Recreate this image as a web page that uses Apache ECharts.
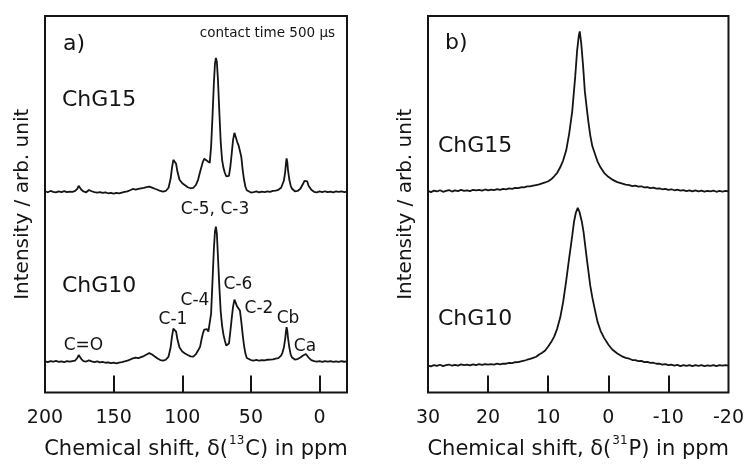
<!DOCTYPE html>
<html>
<head>
<meta charset="utf-8">
<title>NMR spectra</title>
<script src="https://cdn.jsdelivr.net/npm/echarts@6/dist/echarts.min.js"></script>
<style>
  body { margin: 0; background: #fff; }
  #chart { width: 747px; height: 465px; }
</style>
</head>
<body>
<div id="chart"></div>
<script>
// 13C CP-MAS spectra, [ppm, intensity above baseline]
var c13ChG15 = [
  [200, 0.5], [198, -0.5], [196, 0.8], [194, 0], [192, -0.6], [190, 0.4], [188, -0.3], [186, 0.6],
  [184, -0.4], [182, 0.2], [180, -0.2], [178, 0.8], [176.5, 3], [175.5, 6], [175, 6.5], [174.5, 5],
  [173.5, 2], [172, 0.3], [170, -0.5], [168, 1.8], [166, 0.5], [164, -0.4], [162, -0.8], [160, -0.3],
  [158, -1.2], [156, -0.6], [154, -1.5], [152, -1.0], [150, -1.8], [148, -1.2], [146, -1.6], [144, -0.8],
  [142, -0.2], [140, 0.4], [138, 1.5], [136, 2.8], [134, 2.2], [132, 3.0], [130, 3.5], [128, 4.0],
  [126, 4.6], [124, 5.2], [122, 4.2], [120, 3.0], [118, 2.0], [116, 0.8], [114, 0.2], [112, 0.8],
  [110, 4], [108.5, 13], [107.5, 24], [106.5, 32], [105.5, 33.5], [104.5, 28], [103.5, 20], [102, 12],
  [100, 8.5], [98, 6.5], [96, 4.5], [94, 3.5], [92, 3.8], [90, 7], [88.5, 12], [87, 20], [86, 25],
  [85, 30], [84, 33], [83, 33.5], [82, 31], [81, 29], [80, 29], [79, 45], [78, 75], [77, 108],
  [76.2, 128], [75.5, 134], [74.8, 130], [74, 112], [73, 80], [72, 50], [71, 32], [70, 24], [69, 19],
  [68, 15.5], [67, 13.5], [66, 16], [65, 25], [64, 38], [63, 52], [62, 59], [61.5, 60.5], [61, 58],
  [60, 50], [59, 46.5], [58, 45], [57, 35], [56, 22], [55, 12], [54, 5], [53, 1.5], [52, 0],
  [50, -0.8], [48, -0.4], [46, 0.3], [44, -0.6], [42, 0.2], [40, -0.3], [38, 0.5], [36, 0], [34, 0.8],
  [32, 1.2], [30, 2.0], [28, 4], [27, 6], [26, 11], [25, 20], [24.5, 28], [24, 33.5], [23.5, 30],
  [23, 22], [22, 12], [21, 6], [20, 3], [18, 0.5], [16, 0.8], [14, 3], [12, 8], [11, 11], [10, 12.5],
  [9, 10.5], [8, 6], [6, 2], [4, 0], [2, -0.6], [0, 0.3], [-2, -0.4], [-4, 0.5], [-6, -0.3],
  [-8, 0.2], [-10, -0.5], [-12, 0.3], [-14, -0.2], [-16, 0.4], [-18, -0.3], [-20, 0.2]
]
var c13ChG10 = [
  [200, 0.3], [198, -0.6], [196, 0.5], [194, -0.2], [192, 0.6], [190, -0.4], [188, 0.2], [186, -0.5],
  [184, 0.4], [182, -0.2], [180, 0.5], [178, 1.0], [176.5, 3.5], [175.5, 6.5], [175, 7], [174.5, 5.5],
  [173.5, 2.5], [172, 0.5], [170, 0], [168, 1.2], [166, 0.2], [164, -0.5], [162, 0.2], [160, -0.8],
  [158, -0.3], [156, -1.2], [154, -0.8], [152, -1.5], [150, -1.0], [148, -1.8], [146, -1.0], [144, -0.5],
  [142, 0.2], [140, 1.0], [138, 2.0], [136, 3.2], [134, 4.0], [132, 3.5], [130, 4.5], [128, 5.5],
  [126, 7.0], [124, 8.4], [122, 7.0], [120, 5.0], [118, 3.0], [116, 1.5], [114, 1.0], [112, 1.8],
  [110, 5], [108.5, 14], [107.5, 25], [106.5, 33], [105.5, 35], [104.5, 30], [103.5, 22], [102, 14],
  [100, 10], [98, 8], [96, 6.5], [94, 5.2], [92, 5], [90, 7.5], [88.5, 11], [87, 15], [86, 22],
  [85, 28], [84, 32], [83, 33], [82, 32.5], [81, 30], [80, 29], [79, 48], [78, 80], [77, 112],
  [76.2, 130], [75.5, 135], [74.8, 128], [74, 105], [73, 75], [72, 50], [71, 36], [70, 27], [69, 21],
  [68, 16], [67, 14], [66, 18], [65, 30], [64, 43], [63, 55], [62, 62], [61.5, 63.5], [61, 60],
  [60, 55], [59, 53], [58, 51], [57, 40], [56, 27], [55, 16], [54, 8], [53, 3.5], [52, 2],
  [50, 1.5], [48, 1.0], [46, 1.6], [44, 0.8], [42, 1.5], [40, 1.2], [38, 1.8], [36, 2.0], [34, 2.2],
  [32, 3.0], [30, 3.5], [28, 6], [27, 9], [26, 14], [25, 23], [24.5, 30], [24, 34.5], [23.5, 31],
  [23, 24], [22, 14], [21, 7], [20, 4], [18, 2], [16, 2.5], [14, 4], [12, 6], [11, 7], [10, 7.5],
  [9, 6.5], [8, 4], [6, 1.5], [4, 0.5], [2, 0], [0, 0.4], [-2, -0.3], [-4, 0.5], [-6, 0],
  [-8, 0.3], [-10, -0.4], [-12, 0.2], [-14, -0.3], [-16, 0.3], [-18, -0.2], [-20, 0.1]
]

// 31P spectra
var p31ChG15 = [
  [30, 0.3], [29.5, -0.8], [29, 0.6], [28.5, -0.2], [28, 1.0], [27.5, -0.5], [27, 0.4], [26.5, 1.2],
  [26, -0.3], [25.5, 0.8], [25, 0.2], [24.5, 1.3], [24, 0.4], [23.5, 1.0], [23, 0.2], [22.5, 1.5],
  [22, 0.8], [21.5, 1.4], [21, 0.6], [20.5, 1.8], [20, 1.0], [19.5, 1.6], [19, 1.2], [18.5, 2.2],
  [18, 1.5], [17.5, 2.4], [17, 2.0], [16.5, 2.8], [16, 2.4], [15.5, 3.4], [15, 3.2], [14.5, 4.0],
  [14, 3.9], [13.5, 4.8], [13, 5.0], [12.5, 5.6], [12, 6.2], [11.5, 6.8], [11, 7.8], [10.5, 8.8],
  [10, 10], [9.5, 12], [9, 15], [8.5, 18.5], [8, 24], [7.5, 31], [7, 41], [6.5, 58], [6, 80],
  [5.5, 115], [5.2, 140], [4.9, 156], [4.75, 160], [4.5, 148], [4.2, 126], [3.9, 100], [3.6, 84],
  [3.3, 69], [3.0, 56], [2.65, 45], [2.2, 37], [1.8, 30], [1.3, 24], [0.7, 18.5], [0, 14.5],
  [-0.66, 11.7], [-1.5, 9.2], [-2.2, 8.0], [-2.9, 6.7], [-3.5, 6.2], [-4, 5.2], [-4.5, 5.6], [-5, 4.6],
  [-5.5, 5.0], [-6, 3.8], [-6.5, 4.2], [-7, 3.2], [-7.5, 3.6], [-8, 2.6], [-8.5, 3.0], [-9, 2.0],
  [-9.5, 2.4], [-10, 1.5], [-10.5, 2.0], [-11, 1.0], [-11.5, 1.7], [-12, 0.6], [-12.5, 1.2], [-13, 0.2],
  [-13.5, 0.9], [-14, -0.2], [-14.5, 0.8], [-15, 0], [-15.5, 0.7], [-16, -0.4], [-16.5, 0.5], [-17, -0.2],
  [-17.5, 0.6], [-18, -0.5], [-18.5, 0.4], [-19, -0.3], [-19.5, 0.5], [-20, 0]
]
var p31ChG10 = [
  [30, 0], [29.5, -0.9], [29, 0.5], [28.5, -0.4], [28, 0.8], [27.5, -0.6], [27, 0.3], [26.5, 1.0],
  [26, -0.2], [25.5, 0.6], [25, 0], [24.5, 1.1], [24, 0.3], [23.5, 0.9], [23, 0.1], [22.5, 1.2],
  [22, 0.5], [21.5, 1.3], [21, 0.6], [20.5, 1.5], [20, 0.8], [19.5, 1.4], [19, 1.0], [18.5, 1.8],
  [18, 1.2], [17.5, 2.0], [17, 1.8], [16.5, 2.6], [16, 2.5], [15.5, 3.3], [15, 3.4], [14.5, 4.2],
  [14, 4.8], [13.5, 5.8], [13, 6.6], [12.5, 7.6], [12, 8.8], [11.5, 11], [11, 12.8], [10.5, 15],
  [10, 19], [9.5, 23.5], [9, 29], [8.5, 37], [8, 48], [7.5, 64], [7, 85], [6.5, 108], [6.2, 121],
  [6, 130], [5.7, 144], [5.4, 153], [5.08, 158], [4.8, 154], [4.4, 144], [4.1, 133], [3.86, 121],
  [3.6, 108], [3.3, 94], [3.0, 80], [2.65, 68], [2.2, 55], [1.8, 44], [1.3, 35], [0.7, 27.7], [0, 21],
  [-0.66, 16], [-1.5, 12], [-2.2, 9.5], [-2.9, 7.7], [-3.5, 6.8], [-4, 5.5], [-4.5, 5.4], [-5, 4.4],
  [-5.5, 4.6], [-6, 3.4], [-6.5, 3.6], [-7, 2.6], [-7.5, 2.8], [-8, 1.8], [-8.5, 2.0], [-9, 1.0],
  [-9.5, 1.4], [-10, 0.4], [-10.5, 1.0], [-11, 0], [-11.5, 0.6], [-12, -0.5], [-12.5, 0.5], [-13, -0.4],
  [-13.5, 0.4], [-14, -0.6], [-14.5, 0.3], [-15, -0.3], [-15.5, 0.5], [-16, -0.5], [-16.5, 0.2], [-17, -0.3],
  [-17.5, 0.4], [-18, -0.5], [-18.5, 0.3], [-19, -0.2], [-19.5, 0.4], [-20, 0]
]

var c13Labels = [200, 150, 100, 50, 0]
var c13Ticks = [150, 100, 50, 0]
var p31Labels = [30, 20, 10, 0, -10, -20]
var p31Ticks = [20, 10, 0, -10]

// vertical offsets of the stacked traces
var offsetTop = 201
var offsetBottom = 31
var offsetTopP = 201.5
var offsetBottomP = 27

var ink = '#141414'
var font = 'DejaVu Sans'

function shift (data, off) {
  return data.map(function (d) { return [d[0], d[1] + off] })
}

function xAxisFor (idx, min, max, labels, ticks, nucleus, element) {
  return {
    gridIndex: idx,
    type: 'value',
    inverse: true,
    min: min,
    max: max,
    name: '{t|Chemical shift, δ(}{sup|' + nucleus + '}{t|' + element + ') in ppm}',
    nameLocation: 'middle',
    nameGap: 42,
    nameTextStyle: {
      fontFamily: font,
      fontSize: 21,
      color: ink,
      rich: {
        t: { fontFamily: font, fontSize: 21, color: ink, lineHeight: 30 },
        sup: { fontFamily: font, fontSize: 12, color: ink, lineHeight: 13, verticalAlign: 'top', padding: [0, 1, 0, 1] }
      }
    },
    axisLine: { show: false },
    splitLine: { show: false },
    axisTick: {
      show: true,
      inside: true,
      length: 17,
      customValues: ticks,
      lineStyle: { color: ink, width: 2 }
    },
    axisLabel: {
      customValues: labels,
      margin: 16,
      fontFamily: font,
      fontSize: 19,
      color: ink
    }
  }
}

function yAxisFor (idx) {
  return {
    gridIndex: idx,
    type: 'value',
    min: 0,
    max: 377,
    name: 'Intensity / arb. unit',
    nameLocation: 'middle',
    nameGap: 12,
    nameTextStyle: { fontFamily: font, fontSize: 20, color: ink },
    axisLine: { show: false },
    axisTick: { show: false },
    axisLabel: { show: false },
    splitLine: { show: false }
  }
}

function lineSeries (idx, data) {
  return {
    type: 'line',
    xAxisIndex: idx,
    yAxisIndex: idx,
    data: data,
    showSymbol: false,
    smooth: false,
    lineStyle: { color: ink, width: 1.8 },
    silent: true
  }
}

function txt (text, x, y, size, align) {
  return {
    type: 'text',
    silent: true,
    style: {
      text: text,
      x: x,
      y: y,
      fill: ink,
      fontFamily: font,
      fontSize: size,
      textAlign: align || 'left',
      align: align || 'left',
      textVerticalAlign: 'middle',
      verticalAlign: 'middle'
    }
  }
}

var myChart = echarts.init(document.getElementById('chart'))
var option = {
  animation: false,
  backgroundColor: '#fff',
  grid: [
    { left: 45, top: 16, width: 302, height: 377, show: true, borderColor: ink, borderWidth: 2, backgroundColor: 'transparent' },
    { left: 428, top: 16, width: 302, height: 377, show: true, borderColor: ink, borderWidth: 2, backgroundColor: 'transparent' }
  ],
  xAxis: [
    xAxisFor(0, -20, 200, c13Labels, c13Ticks, '13', 'C'),
    xAxisFor(1, -20, 30, p31Labels, p31Ticks, '31', 'P')
  ],
  yAxis: [yAxisFor(0), yAxisFor(1)],
  series: [
    lineSeries(0, shift(c13ChG15, offsetTop)),
    lineSeries(0, shift(c13ChG10, offsetBottom)),
    lineSeries(1, shift(p31ChG15, offsetTopP)),
    lineSeries(1, shift(p31ChG10, offsetBottomP))
  ],
  graphic: [
    txt('a)', 63, 44, 22),
    txt('contact time 500 μs', 335, 33, 13.5, 'right'),
    txt('ChG15', 62, 100, 22),
    txt('ChG10', 62, 286, 22),
    txt('C-5, C-3', 215, 210, 17, 'center'),
    txt('C=O', 83.5, 346, 17, 'center'),
    txt('C-1', 173, 320, 17, 'center'),
    txt('C-4', 195, 301, 17, 'center'),
    txt('C-6', 238, 285, 17, 'center'),
    txt('C-2', 259, 309, 17, 'center'),
    txt('Cb', 288, 318.5, 17, 'center'),
    txt('Ca', 305, 347, 17, 'center'),
    txt('b)', 445, 43.5, 22),
    txt('ChG15', 438, 146, 22),
    txt('ChG10', 438, 319.5, 22)
  ]
}
myChart.setOption(option)
</script>
</body>
</html>
